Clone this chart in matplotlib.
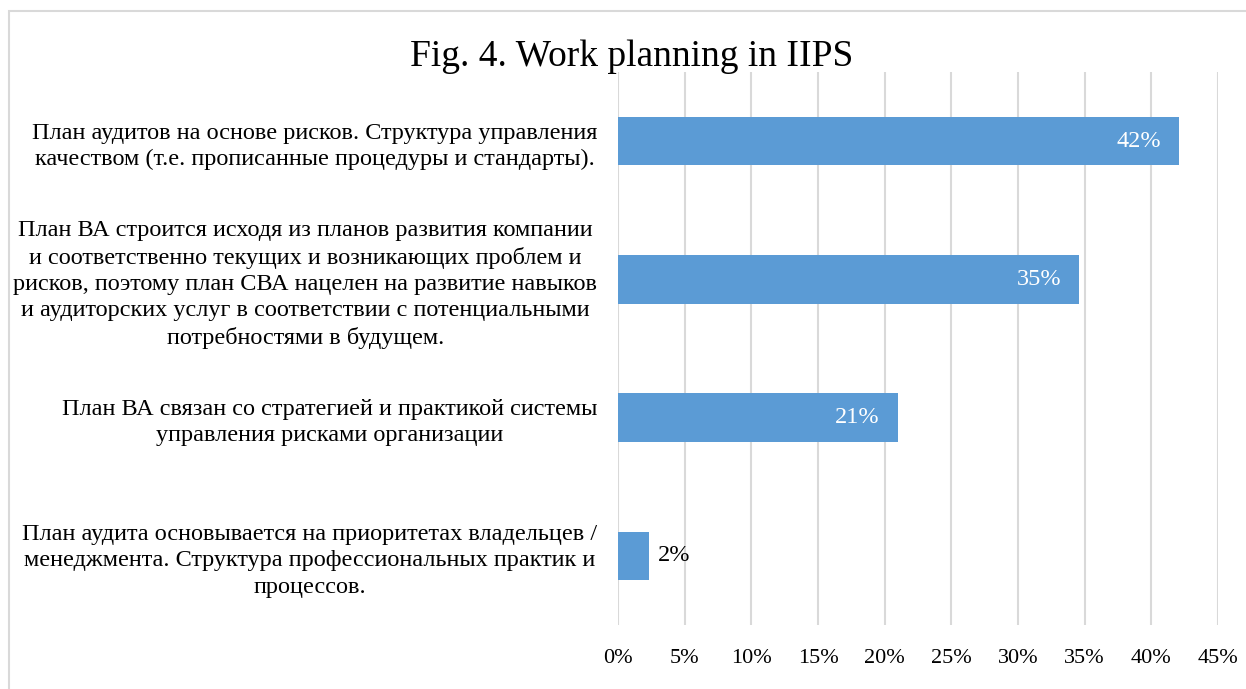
import matplotlib.pyplot as plt
from matplotlib.patches import Rectangle
from matplotlib.ticker import FuncFormatter

plt.rcParams['font.family'] = ['Liberation Serif', 'DejaVu Serif']

# данные
labels = [
    "План аудитов на основе рисков. Структура управления\nкачеством (т.е. прописанные процедуры и стандарты).",
    "План ВА строится исходя из планов развития компании\nи соответственно текущих и возникающих проблем и\nрисков, поэтому план СВА нацелен на развитие навыков\nи аудиторских услуг в соответствии с потенциальными\nпотребностями в будущем.",
    "План ВА связан со стратегией и практикой системы\nуправления рисками организации",
    "План аудита основывается на приоритетах владельцев /\nменеджмента. Структура профессиональных практик и\nпроцессов.",
]
values = [42.1, 34.6, 21.0, 2.3]
xticks = [0, 5, 10, 15, 20, 25, 30, 35, 40, 45]

bar_color = '#5B9BD5'
grid_color = '#D9D9D9'

fig = plt.figure(figsize=(12.46, 6.89), dpi=100)
ax = fig.add_axes([0.496, 0.093, 0.4815, 0.8025])

y = list(range(len(labels)))
ax.barh(y, values, height=0.35, color=bar_color, zorder=3)

ax.set_xlim(0, 45)
ax.set_ylim(len(labels) - 0.5, -0.5)
ax.set_xticks(xticks)
ax.xaxis.set_major_formatter(FuncFormatter(lambda v, p: f"{v:.0f}%"))
ax.set_yticks(y)
ax.set_yticklabels(labels)
for t in ax.get_yticklabels():
    t.set_multialignment('center')
    t.set_linespacing(1.33)
ax.tick_params(axis='y', length=0, pad=15, labelsize=17.5)
ax.tick_params(axis='x', length=0, pad=17, labelsize=16)

ax.grid(axis='x', color=grid_color, linewidth=1.5, zorder=0)
for s in ax.spines.values():
    s.set_visible(False)

# подписи данных
for yi, v in zip(y, values):
    if v > 5:
        ax.text(v - 1.35, yi, f"{v:.0f}%", ha='right', va='center',
                color='white', fontsize=17.5, zorder=4)
    else:
        ax.text(v + 0.7, yi, f"{v:.0f}%", ha='left', va='center',
                color='black', fontsize=17.5, zorder=4)

fig.text(0.507, 0.917, "Fig. 4. Work planning in IIPS", ha='center', va='center',
         fontsize=27)

# рамка диаграммы
fig.patches.append(Rectangle((9 / 1246, -0.05), 1.1, 1.05 - 11 / 689,
                             transform=fig.transFigure, fill=False,
                             edgecolor='#D9D9D9', linewidth=1.5))

fig.savefig('out.png', dpi=100)
